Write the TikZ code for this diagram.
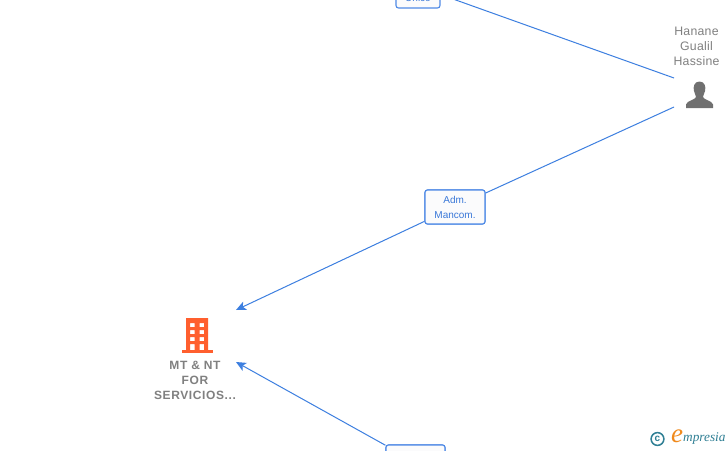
\documentclass[tikz,border=0pt]{standalone}
\usepackage{fontspec}
\setmainfont{Liberation Sans}
\newfontfamily\logofont{Liberation Serif}
\newfontfamily\roleFont{Liberation Sans}
\newfontfamily\personFont[LetterSpace=2]{Liberation Sans}
\newfontfamily\compFont[LetterSpace=5]{Liberation Sans}
\definecolor{linkblue}{HTML}{3D7FE0}
\definecolor{boxblue}{HTML}{4F8AE6}
\definecolor{labelblue}{HTML}{3A78D8}
\definecolor{txtgray}{HTML}{808080}
\definecolor{icongray}{HTML}{707070}
\definecolor{orangeicon}{HTML}{FF5F2E}
\definecolor{logoteal}{HTML}{2F7F94}
\definecolor{logoorange}{HTML}{F08A1D}
\definecolor{boxfill}{HTML}{FBFBFC}
\usetikzlibrary{arrows.meta}
\tikzset{
  x=1pt,y=-1pt,
  rolebox/.style={draw=boxblue,line width=1.1pt,rounded corners=2.5pt,fill=boxfill,text=labelblue,
    font=\roleFont\fontsize{10}{15}\selectfont,align=center,inner sep=0pt},
  link/.style={draw=linkblue,line width=1pt},
  arrowlink/.style={link,-{Stealth[length=10pt,width=9pt,inset=2.5pt]}},
  persontext/.style={text=txtgray,font=\personFont\fontsize{12.3}{15}\selectfont,align=center},
  comptext/.style={text=txtgray,font=\compFont\bfseries\fontsize{12}{15}\selectfont,align=center},
}
\begin{document}
\begin{tikzpicture}
\useasboundingbox (0,0) rectangle (728,450);
\clip (0,0) rectangle (728,450);
\fill[white] (0,0) rectangle (728,450);
% anchors of the connectors
\coordinate (topstart) at (453,-1);
\coordinate (personA) at (674,78);
\coordinate (personB) at (674,107);
\coordinate (compA) at (236,310);
\coordinate (compB) at (236,362);
% role boxes
\node[rolebox,minimum width=44pt,minimum height=22pt] (unico) at (418,-3) {\raisebox{-3.5pt}{Único}};
\node[rolebox,minimum width=60pt,minimum height=34pt] (adm) at (455,207) {Adm.\\Mancom.};
\node[rolebox,minimum width=59pt,minimum height=34pt] (low) at (415.5,462) {};
% connectors
\draw[link] (topstart) -- (personA);
\draw[link] (personB) -- (adm);
\draw[arrowlink] (adm) -- (compA);
\draw[arrowlink] (low) -- (compB);
\node[rolebox,minimum width=60pt,minimum height=34pt] at (455,207) {Adm.\\Mancom.};
\node[rolebox,minimum width=59pt,minimum height=34pt] at (415.5,462) {};
% person
\node[persontext] (person) at (696.5,46.5) {Hanane\\Gualil\\Hassine};
\fill[icongray] (699.5,81.5) .. controls (694,81.5) and (693,87) .. (694,91)
  .. controls (694.6,94) and (696,95.5) .. (696,97)
  .. controls (695,100) and (687,100.5) .. (686,104.5) -- (686,108) -- (713,108) -- (713,104.5)
  .. controls (712,100.5) and (704,100) .. (703,97)
  .. controls (703,95.5) and (704.4,94) .. (705,91)
  .. controls (706,87) and (705,81.5) .. (699.5,81.5) -- cycle;
% company
\fill[orangeicon,even odd rule] (186,318) rectangle (208,350)
  (190,323) rectangle (194.5,327) (199.5,323) rectangle (204,327)
  (190,330) rectangle (194.5,334) (199.5,330) rectangle (204,334)
  (190,337) rectangle (194.5,341) (199.5,337) rectangle (204,341)
  (190,344) rectangle (194.5,350) (199.5,344) rectangle (204,350);
\fill[orangeicon] (182,350) rectangle (213,352.5);
\node[comptext] (company) at (195,380) {MT \& NT\\FOR\\SERVICIOS...};
% logo
\draw[logoteal,line width=1.5pt] (657.5,439) circle (6.4);
\node[text=logoteal,font=\fontsize{10}{10}\selectfont\bfseries,inner sep=0pt] (copy) at (657.5,438.5) {c};
\node[text=logoorange,font=\logofont\itshape\fontsize{27}{27}\selectfont,inner sep=0pt] (loge) at (677,436.5) {e};
\node[text=logoteal,font=\logofont\itshape\fontsize{13.3}{14}\selectfont,inner sep=0pt,anchor=west] (logt) at (683,439) {mpresia};
\end{tikzpicture}
\end{document}
